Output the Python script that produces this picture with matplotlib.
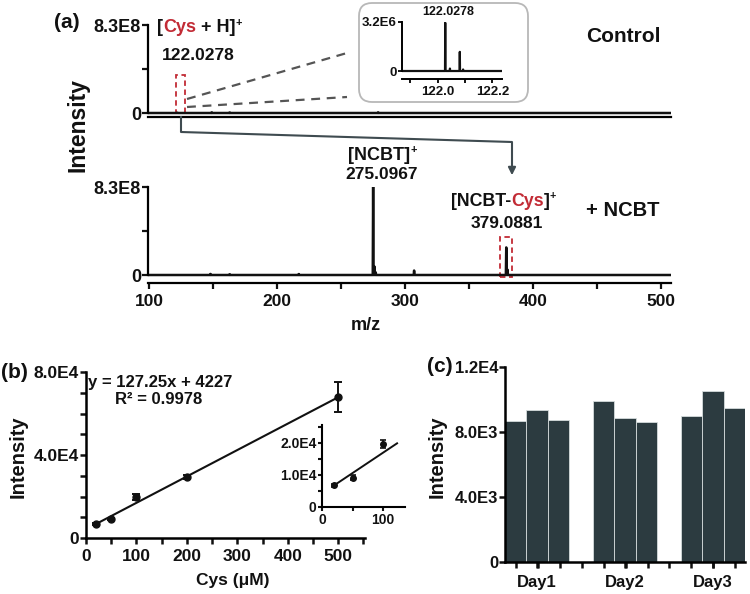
""" plot.py

    Cys detection figure: HR-MS spectra (a), calibration (b), day-to-day bars (c)."""

import matplotlib
matplotlib.use("Agg")
from matplotlib import pyplot as plt
from matplotlib.patches import Rectangle, FancyBboxPatch, FancyArrowPatch
from matplotlib.lines import Line2D
from matplotlib.ticker import FixedLocator, MultipleLocator

plt.rcParams["font.family"] = ["Liberation Sans", "DejaVu Sans"]
plt.rcParams["font.weight"] = "bold"

# Data
# ----

# (a) control spectrum, stick peaks (m/z, intensity)
ctrl_mz = [122.0278, 149.0, 163.0, 279.0]
ctrl_int = [3.2e6, 6.0e6, 5.0e6, 6.0e6]

# (a) + NCBT spectrum
ncbt_mz = [148.0, 163.0, 217.0, 275.0967, 276.1, 277.1, 307.1, 379.0881, 380.09]
ncbt_int = [1.0e7, 7.0e6, 9.0e6, 8.3e8, 8.0e7, 2.5e7, 4.2e7, 2.6e8, 5.0e7]

# (a) zoomed Cys region of the control
zoom_mz = [122.0278, 122.045, 122.081, 122.093]
zoom_int = [3.15e6, 1.6e5, 1.25e6, 1.0e5]

# (b) calibration
cys_conc = [20, 50, 100, 200, 500]
cys_int = [6750, 9150, 19760, 29400, 67950]
cys_err = [500, 700, 1300, 1100, 7400]
fit_slope = 127.25
fit_intercept = 4227

# (c) repeatability
days = ["Day1", "Day2", "Day3"]
day_vals = [[8680, 9350, 8740], [9910, 8860, 8620], [8990, 10520, 9480]]

# Layout helpers (pixel coords, origin top-left)
# ---------------------------------------------

W, H = 750, 594
fig = plt.figure(figsize=(W / 100, H / 100), dpi=100)
tr = fig.dpi_scale_trans
INK = "#111111"
RED = "#c22b35"
GREY = "#3f4b50"


def px_axes(x0, y0, x1, y1):
    return fig.add_axes([x0 / W, 1 - y1 / H, (x1 - x0) / W, (y1 - y0) / H])


def P(x, y):
    return (x / 100, (H - y) / 100)


def ftext(x, y, s, size, **kw):
    kw.setdefault("ha", "center")
    kw.setdefault("va", "center")
    return fig.text(*P(x, y), s, transform=tr, fontsize=size, fontweight="bold", color=kw.pop("color", INK), **kw)


def chunk_text(x, y, parts, size):
    """left-aligned run of differently coloured pieces; parts = (text, colour, scale, raise_px)"""
    renderer = fig.canvas.get_renderer()
    cur = x
    for s, c, sc, dy in parts:
        t = ftext(cur, y - dy, s, size * sc, color=c, ha="left")
        cur += t.get_window_extent(renderer).width


def stick(mz, inten, lo, hi, w):
    xs, ys = [lo], [0]
    for m, h in sorted(zip(mz, inten)):
        xs += [m - w, m, m + w]
        ys += [0, h, 0]
    xs.append(hi)
    ys.append(0)
    return xs, ys


def style(ax, lw=1.6, length=4):
    for s in ["top", "right"]:
        ax.spines[s].set_visible(False)
    for s in ["left", "bottom"]:
        ax.spines[s].set_linewidth(lw)
    ax.tick_params(which="both", direction="out", width=lw, length=length, colors=INK)
    ax.patch.set_alpha(0)


# (a) spectra
# -----------

MZ_LO, MZ_HI = 99.2, 507.8
TOP = 8.3e8

ax_ctrl = px_axes(148, 25, 671, 117)
xs, ys = stick(ctrl_mz, ctrl_int, MZ_LO, MZ_HI, 0.3)
ax_ctrl.plot(xs, ys, color=INK, lw=1.8)
ax_ctrl.set_xlim(MZ_LO, MZ_HI)
ax_ctrl.set_ylim(-4 / 88 * TOP, TOP)
style(ax_ctrl)
ax_ctrl.spines["left"].set_bounds(0, TOP)
ax_ctrl.set_yticks([0, TOP], ["0", "8.3E8"], fontsize=13)
ax_ctrl.yaxis.set_minor_locator(FixedLocator([TOP / 2]))
ax_ctrl.tick_params(axis="y", pad=1)
ax_ctrl.tick_params(axis="x", which="both", bottom=False, labelbottom=False)
ax_ctrl.add_patch(Rectangle((ctrl_mz[0] - 1, 0), 7, 0.43 * TOP, fill=False, ec=RED, lw=1.3,
                            ls=(0, (3, 2)), clip_on=False))

ax_ncbt = px_axes(148, 187, 671, 283)
xs, ys = stick(ncbt_mz, ncbt_int, MZ_LO, MZ_HI, 0.3)
ax_ncbt.plot(xs, ys, color=INK, lw=1.8)
ax_ncbt.set_xlim(MZ_LO, MZ_HI)
ax_ncbt.set_ylim(-8 / 88 * TOP, TOP)
style(ax_ncbt)
ax_ncbt.spines["left"].set_bounds(0, TOP)
ax_ncbt.set_yticks([0, TOP], ["0", "8.3E8"], fontsize=13)
ax_ncbt.yaxis.set_minor_locator(FixedLocator([TOP / 2]))
ax_ncbt.tick_params(axis="y", pad=1)
ax_ncbt.set_xticks([100, 200, 300, 400, 500])
ax_ncbt.tick_params(axis="x", labelsize=12.5, pad=4)
ax_ncbt.xaxis.set_minor_locator(MultipleLocator(50))
ax_ncbt.add_patch(Rectangle((ncbt_mz[7] - 5, -2e7), 9.5, 3.8e8, fill=False, ec=RED, lw=1.3,
                            ls=(0, (3, 2)), clip_on=False))

# zoom inset of the control
fig.add_artist(FancyBboxPatch(P(359, 102), 1.69, 0.99, boxstyle="round,pad=0,rounding_size=0.13",
                              transform=tr, fc="none", ec="#b8b8b8", lw=1.3))
ax_zoom = px_axes(402, 22, 502, 79)
xs, ys = stick(zoom_mz, zoom_int, 121.87, 122.235, 0.0008)
ax_zoom.plot(xs, ys, color=INK, lw=1.6)
ax_zoom.set_xlim(121.87, 122.235)
ax_zoom.set_ylim(-8 / 49 * 3.2e6, 3.2e6)
style(ax_zoom, lw=1.4, length=3)
ax_zoom.spines["left"].set_bounds(0, 3.2e6)
ax_zoom.set_yticks([0, 3.2e6], ["0", "3.2E6"], fontsize=9.5)
ax_zoom.set_xticks([122.0, 122.2], ["122.0", "122.2"], fontsize=9.5)
ax_zoom.xaxis.set_minor_locator(FixedLocator([121.9, 122.1]))
ax_zoom.tick_params(axis="y", pad=1)
ax_zoom.tick_params(axis="x", pad=2)
ftext(448, 12, "122.0278", 9)

# dashed zoom lines, connector arrow
for y0, y1 in [(99, 53), (107, 97)]:
    fig.add_artist(Line2D([P(187, y0)[0], P(347, y1)[0]], [P(187, y0)[1], P(347, y1)[1]],
                          transform=tr, color="#555555", lw=1.6, ls=(0, (4, 3))))
path = [(181, 117), (181, 132), (512, 142), (512, 168)]
fig.add_artist(Line2D([P(*p)[0] for p in path], [P(*p)[1] for p in path], transform=tr, color=GREY, lw=1.5))
fig.add_artist(FancyArrowPatch(P(512, 165), P(512, 178), transform=tr, arrowstyle="-|>",
                               mutation_scale=11, color=GREY, lw=1.5))

# labels (a)
ftext(67, 22, "(a)", 15)
ftext(78, 125, "Intensity", 16.5, rotation=90)
chunk_text(157, 28, [("[", INK, 1, 0), ("Cys", RED, 1, 0), (" + H]", INK, 1, 0), ("+", INK, 0.6, 5)], 13)
ftext(198, 55, "122.0278", 12.5)
ftext(623, 37, "Control", 15)
chunk_text(348, 155, [("[NCBT]", INK, 1, 0), ("+", INK, 0.6, 5)], 13)
ftext(382, 175, "275.0967", 12.5)
chunk_text(451, 201, [("[NCBT-", INK, 1, 0), ("Cys", RED, 1, 0), ("]", INK, 1, 0), ("+", INK, 0.6, 5)], 12.8)
ftext(507, 223, "379.0881", 12.5)
ftext(623, 211, "+ NCBT", 14.5)
ftext(366, 326, "m/z", 13)

# (b) calibration
# ---------------

ax_b = px_axes(86, 372, 365, 538)
ax_b.errorbar(cys_conc, cys_int, yerr=cys_err, fmt="o", ms=5, color=INK, ecolor=INK, elinewidth=1.4,
              capsize=3, capthick=1.4, zorder=3)
ax_b.plot([cys_conc[0], cys_conc[-1]],
          [fit_slope * cys_conc[0] + fit_intercept, fit_slope * cys_conc[-1] + fit_intercept],
          color=INK, lw=1.5)
ax_b.set_xlim(0, 553)
ax_b.set_ylim(0, 8e4)
style(ax_b, lw=1.8)
ax_b.set_xticks([0, 100, 200, 300, 400, 500])
ax_b.xaxis.set_minor_locator(MultipleLocator(50))
ax_b.set_yticks([0, 4e4, 8e4], ["0", "4.0E4", "8.0E4"])
ax_b.yaxis.set_minor_locator(MultipleLocator(1e4))
ax_b.tick_params(axis="x", labelsize=12.5, pad=4)
ax_b.tick_params(axis="y", labelsize=12.5, pad=1)

ax_bi = px_axes(322, 425, 405, 507)
ax_bi.errorbar(cys_conc[:3], cys_int[:3], yerr=cys_err[:3], fmt="o", ms=4, color=INK, ecolor=INK,
               elinewidth=1.2, capsize=2, capthick=1.2, zorder=3)
ax_bi.plot([18, 123], [fit_slope * 18 + fit_intercept, fit_slope * 123 + fit_intercept], color=INK, lw=1.4)
ax_bi.set_xlim(0, 136)
ax_bi.set_ylim(0, 2.56e4)
style(ax_bi, lw=1.5, length=3)
ax_bi.set_xticks([0, 100])
ax_bi.xaxis.set_minor_locator(FixedLocator([50]))
ax_bi.set_yticks([0, 1e4, 2e4], ["0", "1.0E4", "2.0E4"])
ax_bi.yaxis.set_minor_locator(FixedLocator([5e3, 1.5e4, 2.5e4]))
ax_bi.tick_params(labelsize=10, pad=1)

ftext(14, 372, "(b)", 15)
ftext(18, 457, "Intensity", 14.5, rotation=90)
ftext(233, 581, "Cys (\u03bcM)", 12.5)
ftext(88, 382, "y = 127.25x + 4227", 12, ha="left")
ftext(159, 400, "R\u00b2 = 0.9978", 12)

# (c) day-to-day
# --------------

ax_c = px_axes(505, 367, 745, 562)
group_left = [0, 4.1, 8.2]
for g, vals in enumerate(day_vals):
    lefts = [group_left[g] + j for j in range(len(vals))]
    ax_c.bar(lefts, vals, width=1.0, align="edge", color="#2c3b40", edgecolor="#d5dcdc", linewidth=0.6)
ax_c.set_xlim(0, 11.2)
ax_c.set_ylim(0, 1.2e4)
style(ax_c, lw=1.8)
ax_c.set_xticks([g + 1.5 for g in group_left], days)
ax_c.xaxis.set_minor_locator(FixedLocator([0.5 + k * 1.025 for k in range(11)]))
ax_c.set_yticks([0, 4e3, 8e3, 1.2e4], ["0", "4.0E3", "8.0E3", "1.2E4"])
ax_c.tick_params(axis="x", labelsize=12, pad=5)
ax_c.tick_params(axis="y", labelsize=12, pad=1)

ftext(440, 367, "(c)", 15)
ftext(437, 457, "Intensity", 14.5, rotation=90)

fig.savefig("out.png", dpi=100)
